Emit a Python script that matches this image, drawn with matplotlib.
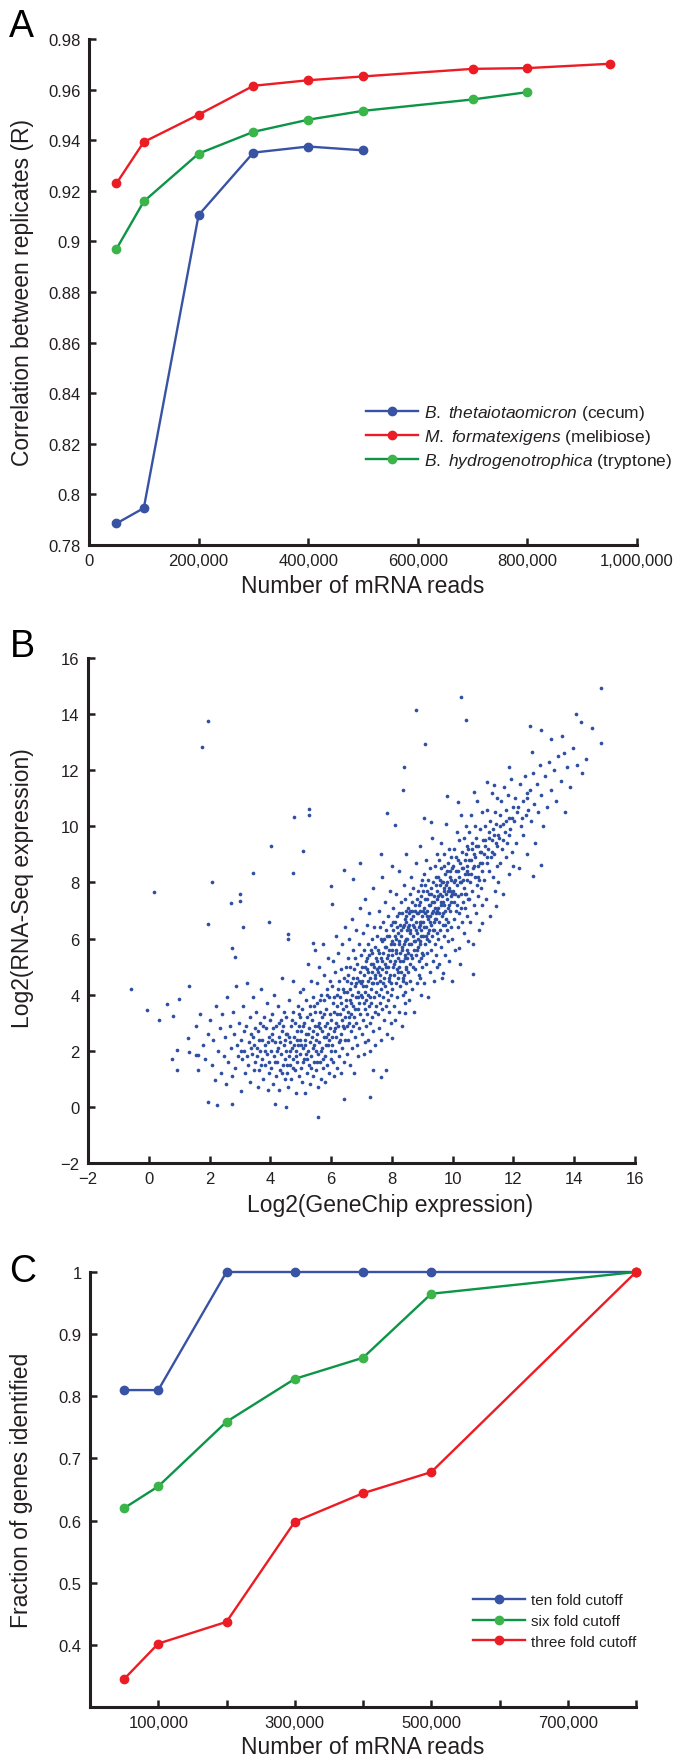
import matplotlib
matplotlib.use("Agg")
import matplotlib.pyplot as plt
from matplotlib.lines import Line2D
from matplotlib.ticker import FixedLocator, FuncFormatter, NullFormatter

plt.rcParams['font.family'] = ['Liberation Sans', 'DejaVu Sans']
plt.rcParams['mathtext.fontset'] = 'custom'
plt.rcParams['mathtext.rm'] = 'Liberation Sans'
plt.rcParams['mathtext.it'] = 'Liberation Sans:italic'

# ---------------- Panel A data ----------------
a_reads_bt = [50000, 100000, 200000, 300000, 400000, 500000]
a_corr_bt = [0.7885, 0.7946, 0.9104, 0.9351, 0.9375, 0.9360]
a_reads_mf = [50000, 100000, 200000, 300000, 400000, 500000, 700000, 800000, 950000]
a_corr_mf = [0.9229, 0.9393, 0.9501, 0.9615, 0.9637, 0.9652, 0.9682, 0.9685, 0.9702]
a_reads_bh = [50000, 100000, 200000, 300000, 400000, 500000, 700000, 800000]
a_corr_bh = [0.8970, 0.9158, 0.9347, 0.9433, 0.9481, 0.9516, 0.9561, 0.9590]
a_labels = [r"$\mathit{B.\ thetaiotaomicron}$ (cecum)",
            r"$\mathit{M.\ formatexigens}$ (melibiose)",
            r"$\mathit{B.\ hydrogenotrophica}$ (tryptone)"]
a_xticks = [0, 200000, 400000, 600000, 800000, 1000000]
a_yticks = [0.78, 0.80, 0.82, 0.84, 0.86, 0.88, 0.90, 0.92, 0.94, 0.96, 0.98]

# ---------------- Panel B data (GeneChip, RNA-Seq) ----------------
b_points = [
    # sparse outliers
    (-0.59, 4.19), (0.16, 7.67), (-0.05, 3.44), (0.33, 3.08), (1.75, 12.82), (1.96, 13.77),
    (2.09, 8.02), (1.96, 6.52), (3.42, 8.33), (4.03, 9.29), (4.79, 10.32), (5.26, 10.63),
    (5.26, 10.42), (5.06, 9.12), (4.73, 8.33), (3.0, 7.6), (3.0, 7.34), (2.69, 7.25),
    (3.1, 6.4), (3.96, 6.6), (2.74, 5.67), (2.85, 5.36),
    (8.79, 14.15), (10.28, 14.6), (10.45, 13.78), (9.1, 12.94), (8.4, 12.1), (8.37, 11.29),
    (14.87, 14.93), (14.87, 12.96), (14.07, 14.0), (14.22, 13.73), (14.58, 13.52),
    (12.55, 13.56), (12.91, 13.43), (13.25, 13.12), (13.59, 13.22), (12.62, 12.66),
    (11.85, 12.13), (11.14, 11.58), (11.37, 11.48), (10.69, 11.23), (9.81, 11.07),
    (10.19, 10.88), (7.83, 10.47), (8.1, 10.04), (9.05, 10.28), (9.3, 10.16),
    (13.7, 10.5), (12.9, 8.63), (12.64, 8.23), (11.44, 7.15), (10.98, 6.56), (10.67, 4.74),
    (9.97, 4.5), (9.68, 4.78), (10.2, 5.68),
    (1.96, 0.16), (2.24, 0.05), (2.74, 0.1), (4.15, 0.1), (4.5, 0.0), (5.58, -0.36),
    (6.42, 0.29), (7.28, 0.34), (7.39, 1.33), (7.79, 1.3), (7.63, 1.08), (8.0, 2.44),
    (8.44, 3.35), (0.77, 1.69), (0.94, 1.32), (0.94, 2.03), (0.59, 3.68), (0.81, 3.24),
    (0.98, 3.86), (1.34, 4.31), (1.28, 2.45), (1.32, 1.95), (1.54, 1.84), (1.62, 1.84),
    (6.42, 8.43), (6.73, 8.13), (6.95, 8.68), (7.63, 9.0), (6.0, 7.88), (6.03, 7.22),
    (5.4, 5.84), (4.59, 6.15), (4.59, 5.97),
    # main cloud
    (1.55, 2.9), (1.62, 1.3), (1.7, 3.3), (1.78, 2.2), (1.86, 1.7), (1.95, 2.6),
    (2.03, 3.1), (2.08, 1.5), (2.12, 2.4), (2.18, 0.95), (2.22, 3.6), (2.27, 2.0), (2.33, 2.8),
    (2.38, 1.2), (2.42, 3.3), (2.47, 1.8),
    (2.52, 2.5), (2.55, 0.8), (2.58, 3.9), (2.62, 1.6), (2.66, 2.9), (2.7, 2.1), (2.73, 1.1),
    (2.77, 3.4), (2.8, 2.6), (2.84, 1.4), (2.88, 4.3), (2.91, 2.2), (2.95, 1.8), (2.98, 3.0),
    (3.02, 2.4), (3.05, 0.55), (3.08, 1.7), (3.1, 3.6), (3.13, 2.0), (3.16, 1.2), (3.2, 2.9),
    (3.23, 4.4), (3.26, 1.5), (3.29, 2.3), (3.32, 3.2), (3.34, 0.9), (3.37, 2.6), (3.4, 1.9),
    (3.43, 3.9), (3.45, 1.3), (3.47, 2.2), (3.49, 2.8),
    (3.51, 1.6), (3.53, 3.4), (3.56, 2.1), (3.58, 0.7), (3.6, 2.7), (3.62, 1.3), (3.65, 3.0),
    (3.67, 2.0), (3.7, 4.2), (3.72, 1.7), (3.74, 2.4), (3.77, 1.0), (3.79, 3.2), (3.81, 2.2),
    (3.84, 1.5), (3.86, 2.8), (3.88, 3.7), (3.9, 1.9), (3.92, 0.6), (3.94, 2.5), (3.96, 1.2),
    (3.98, 3.1),
    (4.01, 2.0), (4.03, 1.4), (4.05, 3.3), (4.07, 2.6), (4.09, 0.8), (4.11, 1.8), (4.13, 4.0),
    (4.16, 2.3), (4.18, 1.1), (4.2, 2.9), (4.22, 1.6), (4.24, 3.6), (4.26, 2.1), (4.28, 0.6),
    (4.3, 2.5), (4.32, 1.3), (4.34, 3.1), (4.36, 1.9), (4.38, 4.6), (4.4, 2.7), (4.42, 1.5),
    (4.44, 2.2), (4.46, 3.4), (4.47, 1.0), (4.48, 2.4), (4.49, 1.7),
    (4.51, 2.0), (4.52, 3.2), (4.54, 1.2), (4.56, 2.6), (4.58, 0.7), (4.6, 1.8), (4.62, 3.8),
    (4.64, 2.3), (4.65, 1.5), (4.67, 2.9), (4.69, 1.0), (4.71, 2.1), (4.73, 3.4), (4.74, 1.7),
    (4.76, 4.5), (4.78, 2.5), (4.8, 1.3), (4.82, 3.0), (4.84, 2.0), (4.85, 0.5), (4.87, 2.7),
    (4.88, 1.6), (4.9, 3.6), (4.92, 2.2), (4.93, 1.1), (4.95, 2.9), (4.96, 4.1), (4.97, 1.9),
    (4.98, 2.4), (4.99, 3.2),
    (5.01, 1.4), (5.02, 2.7), (5.04, 3.5), (5.05, 0.9), (5.07, 2.1), (5.08, 4.2), (5.1, 1.7),
    (5.11, 3.0), (5.13, 2.4), (5.14, 0.5), (5.16, 1.9), (5.17, 3.8), (5.19, 2.6), (5.2, 1.2),
    (5.22, 3.2), (5.23, 2.0), (5.25, 5.1), (5.26, 1.5), (5.28, 2.8), (5.29, 3.6), (5.31, 0.8),
    (5.32, 2.3), (5.34, 4.5), (5.35, 1.8), (5.37, 3.1), (5.38, 2.5), (5.4, 1.1), (5.41, 3.9),
    (5.43, 2.2), (5.44, 1.6), (5.46, 2.9), (5.47, 5.6), (5.48, 3.4), (5.49, 2.0),
    (5.51, 1.3), (5.52, 2.6), (5.53, 3.7), (5.55, 4.4), (5.56, 1.9), (5.57, 0.7), (5.59, 3.0),
    (5.6, 2.3), (5.61, 5.0), (5.63, 1.6), (5.64, 3.4), (5.65, 2.8), (5.67, 1.0), (5.68, 4.0),
    (5.69, 2.1), (5.71, 3.2), (5.72, 5.8), (5.73, 1.4), (5.75, 2.5), (5.76, 3.8), (5.77, 4.7),
    (5.79, 1.8), (5.8, 2.9), (5.81, 0.9), (5.83, 3.5), (5.84, 2.2), (5.85, 4.2), (5.87, 1.5),
    (5.88, 3.0), (5.89, 2.6), (5.9, 5.3), (5.92, 3.9), (5.93, 1.2), (5.94, 2.4), (5.95, 4.5),
    (5.97, 3.3), (5.98, 2.0), (5.99, 1.7),
    (6.01, 3.1), (6.02, 2.2), (6.03, 4.3), (6.05, 1.6), (6.06, 3.7), (6.07, 5.2), (6.08, 2.7),
    (6.1, 1.1), (6.11, 3.4), (6.12, 4.8), (6.13, 2.0), (6.15, 3.0), (6.16, 6.1), (6.17, 2.5),
    (6.18, 4.0), (6.2, 1.4), (6.21, 3.6), (6.22, 2.9), (6.23, 5.5), (6.25, 2.3), (6.26, 4.5),
    (6.27, 1.8), (6.28, 3.3), (6.3, 3.9), (6.31, 2.6), (6.32, 4.9), (6.33, 1.2), (6.35, 3.1),
    (6.36, 5.8), (6.37, 2.1), (6.38, 4.2), (6.4, 3.5), (6.41, 2.8), (6.42, 1.6), (6.43, 4.6),
    (6.45, 3.2), (6.46, 6.4), (6.47, 2.4), (6.48, 3.8), (6.49, 5.0),
    (6.51, 2.9), (6.52, 4.1), (6.53, 1.9), (6.54, 5.3), (6.55, 3.4), (6.56, 2.4), (6.57, 4.7),
    (6.59, 6.0), (6.6, 3.0), (6.61, 1.5), (6.62, 3.8), (6.63, 5.0), (6.64, 2.7), (6.65, 4.4),
    (6.66, 3.3), (6.68, 6.7), (6.69, 2.1), (6.7, 4.0), (6.71, 5.6), (6.72, 3.6), (6.73, 2.9),
    (6.74, 4.9), (6.75, 1.2), (6.76, 3.2), (6.78, 4.3), (6.79, 5.3), (6.8, 2.5), (6.81, 3.9),
    (6.82, 6.3), (6.83, 3.0), (6.84, 4.6), (6.85, 2.2), (6.86, 5.1), (6.88, 3.5), (6.89, 4.1),
    (6.9, 1.8), (6.91, 5.8), (6.92, 3.7), (6.93, 2.8), (6.94, 4.8), (6.95, 7.1), (6.96, 3.3),
    (6.97, 4.4), (6.99, 5.4),
    (7.01, 3.9), (7.02, 2.6), (7.03, 5.0), (7.04, 4.3), (7.05, 6.2), (7.06, 3.1), (7.07, 1.9),
    (7.08, 4.7), (7.09, 5.6), (7.1, 3.5), (7.11, 2.3), (7.12, 4.1), (7.13, 7.4), (7.14, 5.2),
    (7.15, 3.8), (7.16, 2.9), (7.17, 4.9), (7.18, 6.5), (7.19, 3.3), (7.2, 4.5), (7.21, 5.8),
    (7.22, 2.4), (7.23, 4.0), (7.24, 3.6), (7.25, 5.4), (7.26, 6.9), (7.27, 3.0), (7.28, 4.6),
    (7.29, 2.0), (7.3, 5.1), (7.31, 3.7), (7.32, 4.2), (7.33, 6.0), (7.34, 3.2), (7.35, 4.8),
    (7.36, 5.5), (7.37, 2.7), (7.38, 4.4), (7.39, 7.8), (7.4, 3.9), (7.41, 5.0), (7.42, 6.4),
    (7.43, 3.4), (7.44, 4.7), (7.45, 2.2), (7.46, 5.7), (7.47, 4.1), (7.49, 3.6),
    (7.5, 5.2), (7.51, 4.4), (7.52, 6.1), (7.53, 3.3), (7.54, 4.8), (7.55, 5.6), (7.56, 2.8),
    (7.57, 4.0), (7.58, 7.0), (7.59, 5.0), (7.6, 3.7), (7.61, 4.5), (7.62, 6.4), (7.63, 2.4),
    (7.64, 5.3), (7.65, 4.2), (7.66, 5.9), (7.67, 3.5), (7.68, 4.9), (7.69, 8.2), (7.7, 6.6),
    (7.71, 3.9), (7.72, 5.5), (7.73, 4.6), (7.74, 3.1), (7.75, 6.0), (7.76, 5.1), (7.77, 4.3),
    (7.78, 7.3), (7.79, 3.6), (7.8, 5.7), (7.81, 4.8), (7.82, 6.3), (7.83, 2.6), (7.84, 5.3),
    (7.85, 4.1), (7.86, 6.8), (7.87, 3.8), (7.88, 5.0), (7.89, 4.5), (7.9, 6.1), (7.91, 3.4),
    (7.92, 5.6), (7.93, 7.7), (7.94, 4.7), (7.95, 5.2), (7.96, 3.0), (7.97, 6.5), (7.98, 4.4),
    (7.99, 5.9), (7.995, 8.6), (7.97, 4.0),
    (8.01, 5.4), (8.02, 4.2), (8.03, 6.3), (8.04, 5.0), (8.05, 7.1), (8.06, 3.6), (8.07, 5.8),
    (8.08, 4.7), (8.09, 6.6), (8.1, 5.2), (8.11, 3.1), (8.12, 6.0), (8.13, 4.4), (8.14, 7.6),
    (8.15, 5.6), (8.16, 4.9), (8.17, 6.8), (8.18, 3.9), (8.19, 5.3), (8.2, 6.2), (8.21, 4.6),
    (8.22, 8.4), (8.23, 5.9), (8.24, 5.0), (8.25, 3.4), (8.26, 6.5), (8.27, 4.3), (8.28, 5.5),
    (8.29, 7.3), (8.3, 4.8), (8.31, 6.1), (8.32, 5.7), (8.33, 2.9), (8.34, 6.9), (8.35, 4.5),
    (8.36, 5.2), (8.37, 6.4), (8.38, 4.0), (8.39, 7.9), (8.4, 5.8), (8.41, 4.7), (8.42, 6.7),
    (8.43, 5.3), (8.44, 3.7), (8.45, 6.0), (8.46, 5.0), (8.47, 7.0), (8.48, 4.4), (8.49, 6.3),
    (8.485, 5.6), (8.475, 9.0), (8.465, 4.9), (8.455, 6.6), (8.445, 5.4), (8.435, 7.4), (8.425, 4.1),
    (8.51, 6.0), (8.52, 4.8), (8.53, 7.1), (8.54, 5.5), (8.55, 6.5), (8.56, 3.8), (8.57, 6.9),
    (8.58, 5.1), (8.59, 7.6), (8.6, 6.2), (8.61, 4.5), (8.62, 5.8), (8.63, 8.2), (8.64, 6.7),
    (8.65, 5.3), (8.66, 7.3), (8.67, 4.2), (8.68, 6.1), (8.69, 6.8), (8.7, 5.0), (8.71, 7.8),
    (8.72, 5.6), (8.73, 6.4), (8.74, 3.4), (8.75, 7.0), (8.76, 5.9), (8.77, 4.9), (8.78, 6.6),
    (8.79, 8.7), (8.8, 5.4), (8.81, 7.4), (8.82, 6.2), (8.83, 4.4), (8.84, 6.9), (8.85, 5.7),
    (8.86, 7.7), (8.87, 6.0), (8.88, 5.2), (8.89, 7.2), (8.9, 4.7), (8.91, 6.5), (8.92, 9.3),
    (8.93, 5.8), (8.94, 7.0), (8.95, 6.3), (8.96, 4.0), (8.97, 7.5), (8.98, 5.5), (8.99, 6.8),
    (8.985, 8.1), (8.975, 5.0), (8.965, 6.1), (8.955, 7.9), (8.945, 5.3), (8.935, 6.6), (8.925, 4.6),
    (9.01, 6.6), (9.02, 5.4), (9.03, 7.7), (9.04, 6.1), (9.05, 8.3), (9.06, 4.4), (9.07, 7.1),
    (9.08, 5.8), (9.09, 6.9), (9.1, 7.9), (9.11, 5.1), (9.12, 6.4), (9.13, 8.8), (9.14, 7.4),
    (9.15, 6.0), (9.16, 5.5), (9.17, 7.0), (9.18, 8.1), (9.19, 3.9), (9.2, 6.7), (9.21, 7.6),
    (9.22, 5.9), (9.23, 6.3), (9.24, 8.5), (9.25, 7.2), (9.26, 4.8), (9.27, 6.8), (9.28, 7.8),
    (9.29, 5.6), (9.3, 6.5), (9.31, 9.6), (9.32, 7.3), (9.33, 6.1), (9.34, 5.2), (9.35, 8.0),
    (9.36, 7.0), (9.37, 6.6), (9.38, 4.5), (9.39, 7.5), (9.4, 6.3), (9.41, 8.6), (9.42, 5.8),
    (9.43, 7.1), (9.44, 6.9), (9.45, 5.4), (9.46, 8.2), (9.47, 7.7), (9.48, 6.2), (9.49, 7.4),
    (9.485, 5.0), (9.475, 9.0), (9.465, 6.7),
    (9.51, 7.1), (9.52, 6.0), (9.53, 8.2), (9.54, 6.6), (9.55, 8.8), (9.56, 5.1), (9.57, 7.6),
    (9.58, 6.3), (9.59, 7.9), (9.6, 9.4), (9.61, 5.7), (9.62, 7.2), (9.63, 8.5), (9.64, 6.8),
    (9.65, 7.5), (9.66, 4.6), (9.67, 8.0), (9.68, 6.5), (9.69, 7.3), (9.7, 9.0), (9.71, 6.1),
    (9.72, 7.8), (9.73, 8.6), (9.74, 5.4), (9.75, 7.0), (9.76, 8.3), (9.77, 6.7), (9.78, 7.6),
    (9.79, 10.1), (9.8, 6.3), (9.81, 8.0), (9.82, 7.4), (9.83, 5.9), (9.84, 8.7), (9.85, 7.1),
    (9.86, 6.6), (9.87, 9.2), (9.88, 7.8), (9.89, 5.2), (9.9, 8.4), (9.91, 7.0), (9.92, 7.7),
    (9.93, 6.4), (9.94, 8.9), (9.95, 7.3), (9.96, 8.1), (9.97, 6.0), (9.99, 7.6),
    (10.01, 7.7), (10.02, 8.6), (10.04, 6.7), (10.05, 9.2), (10.06, 7.3), (10.08, 8.1),
    (10.09, 5.6), (10.1, 8.9), (10.12, 7.0), (10.13, 9.8), (10.14, 7.9), (10.16, 6.4),
    (10.17, 8.4), (10.18, 7.5), (10.2, 9.5), (10.21, 6.9), (10.22, 8.2), (10.24, 5.1),
    (10.25, 8.7), (10.26, 7.6), (10.28, 10.4), (10.29, 8.0), (10.3, 6.6), (10.32, 9.1),
    (10.33, 7.3), (10.34, 8.5), (10.36, 7.8), (10.37, 6.2), (10.38, 9.6), (10.4, 8.3),
    (10.41, 7.1), (10.42, 8.8), (10.44, 10.0), (10.45, 7.6), (10.46, 6.8), (10.47, 8.1),
    (10.48, 9.3), (10.49, 7.4), (10.495, 5.9), (10.485, 8.6),
    (10.51, 8.3), (10.52, 9.2), (10.54, 7.4), (10.55, 9.8), (10.57, 8.0), (10.58, 6.6),
    (10.6, 8.8), (10.61, 10.4), (10.63, 7.7), (10.64, 9.4), (10.66, 8.5), (10.67, 5.8),
    (10.69, 9.0), (10.7, 7.2), (10.72, 10.0), (10.73, 8.2), (10.75, 8.9), (10.76, 6.9),
    (10.78, 9.6), (10.79, 7.9), (10.81, 10.9), (10.82, 8.6), (10.84, 7.5), (10.85, 9.3),
    (10.87, 8.1), (10.88, 6.3), (10.9, 9.9), (10.91, 8.7), (10.93, 7.8), (10.94, 9.1),
    (10.96, 10.5), (10.97, 8.4), (10.98, 7.2), (10.99, 9.5),
    (11.02, 9.0), (11.04, 8.1), (11.06, 10.0), (11.08, 9.5), (11.1, 7.4), (11.12, 8.7),
    (11.14, 10.6), (11.16, 9.2), (11.18, 8.4), (11.2, 9.8), (11.22, 6.8), (11.24, 10.2),
    (11.26, 8.9), (11.28, 9.5), (11.3, 11.2), (11.32, 8.2), (11.34, 9.9), (11.36, 9.0),
    (11.38, 10.5), (11.4, 7.7), (11.42, 9.4), (11.44, 10.1), (11.46, 8.6), (11.47, 11.0),
    (11.48, 9.7), (11.49, 8.0),
    (11.52, 9.6), (11.55, 10.4), (11.57, 8.7), (11.6, 10.9), (11.62, 9.2), (11.65, 7.6),
    (11.67, 10.1), (11.7, 11.4), (11.72, 9.8), (11.75, 8.9), (11.77, 10.6), (11.8, 9.4),
    (11.82, 11.1), (11.85, 8.3), (11.87, 10.3), (11.9, 9.9), (11.92, 11.7), (11.95, 9.1),
    (11.97, 10.7), (11.99, 8.6),
    (12.03, 10.2), (12.06, 11.0), (12.1, 9.4), (12.14, 10.7), (12.18, 8.5), (12.22, 11.5),
    (12.26, 10.0), (12.3, 10.9), (12.33, 9.7), (12.37, 11.8), (12.4, 10.4), (12.43, 9.0),
    (12.46, 11.2), (12.49, 10.6),
    (12.53, 11.3), (12.58, 10.2), (12.63, 11.9), (12.68, 10.8), (12.72, 9.4), (12.77, 11.5),
    (12.82, 10.5), (12.87, 12.2), (12.92, 11.1), (12.97, 10.0),
    (13.04, 11.8), (13.1, 10.7), (13.18, 12.3), (13.25, 11.3), (13.32, 12.0), (13.4, 10.9),
    (13.47, 12.5),
    (13.55, 11.6), (13.65, 12.6), (13.75, 12.1), (13.85, 11.4), (13.95, 12.8),
    (14.1, 12.2), (14.25, 11.9), (14.4, 12.4),
    # denser cores
    (3.04, 2.0), (3.14, 2.7), (3.24, 1.8), (3.36, 2.1), (3.44, 2.5), (3.55, 1.8), (3.64, 2.4),
    (3.69, 1.5), (3.76, 2.9), (3.83, 2.0), (3.91, 2.3), (3.97, 1.6), (4.04, 2.4), (4.1, 2.8),
    (4.15, 1.6), (4.21, 2.0), (4.27, 3.0), (4.33, 2.3), (4.39, 1.2), (4.43, 2.9), (4.5, 2.6),
    (4.55, 1.5), (4.61, 2.5), (4.66, 2.0), (4.7, 3.1), (4.75, 1.4), (4.79, 2.2), (4.83, 1.8),
    (4.89, 2.4), (4.94, 3.3), (5.0, 2.2), (5.06, 1.6), (5.09, 2.9), (5.15, 2.2), (5.21, 1.7),
    (5.24, 2.6), (5.3, 3.3), (5.33, 1.4), (5.39, 2.1), (5.42, 2.7), (5.45, 3.6), (5.5, 2.4),
    (5.54, 1.6), (5.58, 2.9), (5.62, 3.8), (5.66, 2.0), (5.7, 2.7), (5.74, 1.7), (5.78, 3.3),
    (5.82, 2.5), (5.86, 4.0), (5.91, 2.2), (5.96, 2.8),
    (6.04, 2.5), (6.09, 3.9), (6.14, 2.8), (6.19, 3.3), (6.24, 4.2), (6.29, 2.4), (6.34, 3.7),
    (6.39, 2.9), (6.44, 4.1), (6.5, 3.6), (6.53, 4.5), (6.58, 3.2), (6.62, 4.2), (6.67, 3.7),
    (6.71, 4.6), (6.77, 3.5), (6.81, 4.4), (6.87, 3.9), (6.92, 4.5), (6.98, 4.0),
    (7.03, 4.5), (7.07, 3.7), (7.11, 5.0), (7.15, 4.3), (7.19, 5.3), (7.23, 4.8), (7.27, 3.9),
    (7.31, 5.6), (7.35, 4.4), (7.39, 5.1), (7.43, 4.6), (7.47, 5.3), (7.52, 4.9), (7.56, 5.5),
    (7.6, 4.7), (7.64, 6.0), (7.68, 5.2), (7.72, 4.4), (7.76, 5.7), (7.8, 5.0), (7.84, 6.1),
    (7.88, 5.4), (7.92, 4.6), (7.96, 5.8),
    (8.02, 5.6), (8.04, 6.6), (8.07, 5.1), (8.1, 6.1), (8.13, 5.5), (8.16, 6.4), (8.19, 4.8),
    (8.22, 5.8), (8.25, 6.9), (8.28, 5.2), (8.31, 6.3), (8.34, 5.6), (8.37, 4.6), (8.4, 6.5),
    (8.43, 5.9), (8.46, 6.8), (8.49, 5.3),
    (8.52, 6.4), (8.55, 5.8), (8.58, 7.0), (8.61, 6.3), (8.64, 5.4), (8.67, 7.0), (8.7, 6.5),
    (8.73, 5.9), (8.76, 7.2), (8.79, 6.3), (8.82, 5.6), (8.85, 6.9), (8.88, 6.4), (8.91, 7.3),
    (8.94, 5.9), (8.97, 6.6),
    (9.02, 7.0), (9.05, 6.4), (9.08, 7.4), (9.11, 6.1), (9.14, 6.8), (9.17, 7.7), (9.2, 6.2),
    (9.23, 7.2), (9.26, 6.6), (9.29, 7.6), (9.32, 6.9), (9.35, 6.3), (9.38, 7.3), (9.41, 6.7),
    (9.44, 7.9), (9.47, 7.0),
    (9.52, 7.5), (9.55, 6.9), (9.58, 8.1), (9.61, 7.3), (9.64, 8.0), (9.67, 6.9), (9.7, 7.7),
    (9.73, 7.2), (9.76, 6.5), (9.79, 7.9), (9.82, 8.4), (9.85, 7.7), (9.88, 7.2), (9.91, 8.2),
    (9.94, 7.5), (9.97, 8.5),
    (10.03, 8.0), (10.07, 7.6), (10.11, 8.4), (10.15, 7.2), (10.19, 8.8), (10.23, 8.0),
    (10.27, 7.1), (10.31, 8.5), (10.35, 8.1), (10.39, 7.6), (10.43, 9.0), (10.47, 8.4),
    (10.53, 8.8), (10.59, 8.3), (10.65, 9.2), (10.71, 8.6), (10.77, 9.3), (10.83, 8.2),
    (10.89, 9.1), (10.95, 8.7),
    (11.05, 9.3), (11.13, 8.9), (11.21, 9.6), (11.29, 9.1), (11.37, 9.7), (11.45, 9.3),
    (11.56, 10.0), (11.66, 9.5), (11.76, 10.2), (11.86, 9.7), (11.96, 10.3), (12.12, 10.5),
    (12.28, 10.3), (12.44, 11.0),
]
b_genechip = [p[0] for p in b_points]
b_rnaseq = [p[1] for p in b_points]
b_ticks = [-2, 0, 2, 4, 6, 8, 10, 12, 14, 16]

# ---------------- Panel C data ----------------
c_reads = [50000, 100000, 200000, 300000, 400000, 500000, 800000]
c_ten = [0.810, 0.810, 1.0, 1.0, 1.0, 1.0, 1.0]
c_six = [0.620, 0.655, 0.759, 0.828, 0.862, 0.965, 1.0]
c_three = [0.345, 0.402, 0.437, 0.598, 0.644, 0.678, 1.0]
c_labels = ["ten fold cutoff", "six fold cutoff", "three fold cutoff"]
c_xticks_labeled = [100000, 300000, 500000, 700000]
c_xticks_minor = [0, 200000, 400000, 600000, 800000]
c_yticks = [0.4, 0.5, 0.6, 0.7, 0.8, 0.9, 1.0]

# ---------------- styles ----------------
INK = '#231F20'
BLUE = '#3953A4'
RED = '#EC1C24'
GREEN_LINE = '#0C9447'
GREEN_MK = '#3BB54A'
DOT = '#2F4FA2'
W, H = 673, 1758

fig = plt.figure(figsize=(W / 100, H / 100), dpi=100)


def box(l, t, r, b):
    return [l / W, 1 - b / H, (r - l) / W, (b - t) / H]


def style(ax):
    for s in ('top', 'right'):
        ax.spines[s].set_visible(False)
    for s in ('left', 'bottom'):
        ax.spines[s].set_linewidth(2.2)
        ax.spines[s].set_color(INK)
        ax.spines[s].set_capstyle('projecting')
    ax.tick_params(which='both', direction='in', length=5, width=1.8, color=INK,
                   labelsize=12, labelcolor=INK, pad=6)


def fmt_g(v, pos):
    return f"{v:g}"


def fmt_comma(v, pos):
    return f"{int(round(v)):,}"


# ---------- A ----------
axA = fig.add_axes(box(89, 40, 637, 546))
style(axA)
lk = dict(lw=1.7, marker='o', ms=6, clip_on=False, zorder=3)
axA.plot(a_reads_bt, a_corr_bt, color=BLUE, mfc=BLUE, mec=BLUE, **lk)
axA.plot(a_reads_mf, a_corr_mf, color=RED, mfc=RED, mec=RED, **lk)
axA.plot(a_reads_bh, a_corr_bh, color=GREEN_LINE, mfc=GREEN_MK, mec=GREEN_MK, **lk)
axA.set_xlim(0, 1000000)
axA.set_ylim(0.78, 0.98)
axA.xaxis.set_major_locator(FixedLocator(a_xticks))
axA.xaxis.set_major_formatter(FuncFormatter(fmt_comma))
axA.yaxis.set_major_locator(FixedLocator(a_yticks))
axA.yaxis.set_major_formatter(FuncFormatter(fmt_g))
axA.set_xlabel("Number of mRNA reads", fontsize=16.5, color=INK)
axA.set_ylabel("Correlation between replicates (R)", fontsize=16.5, color=INK)
axA.xaxis.set_label_coords(0.5, -0.058)
axA.yaxis.set_label_coords(-0.10, 0.5)
hA = [Line2D([], [], color=BLUE, lw=1.7, marker='o', ms=6, mfc=BLUE, mec=BLUE),
      Line2D([], [], color=RED, lw=1.7, marker='o', ms=6, mfc=RED, mec=RED),
      Line2D([], [], color=GREEN_LINE, lw=1.7, marker='o', ms=6, mfc=GREEN_MK, mec=GREEN_MK)]
legA = axA.legend(hA, a_labels, loc='upper left', bbox_to_anchor=(366 / W, 1 - 404 / H),
                  bbox_transform=fig.transFigure, frameon=False, fontsize=12.5,
                  handlelength=3.0, handletextpad=0.35, labelspacing=0.3, borderpad=0,
                  borderaxespad=0)
for t in legA.get_texts():
    t.set_color(INK)

# ---------- B ----------
axB = fig.add_axes(box(88, 659, 635, 1164))
style(axB)
axB.scatter(b_genechip, b_rnaseq, s=7, color=DOT, linewidths=0, zorder=3)
axB.set_xlim(-2, 16)
axB.set_ylim(-2, 16)
axB.xaxis.set_major_locator(FixedLocator(b_ticks))
axB.yaxis.set_major_locator(FixedLocator(b_ticks))
axB.set_xlabel("Log2(GeneChip expression)", fontsize=16.5, color=INK)
axB.set_ylabel("Log2(RNA-Seq expression)", fontsize=16.5, color=INK)
axB.xaxis.set_label_coords(0.552, -0.060)
axB.yaxis.set_label_coords(-0.098, 0.547)

# ---------- C ----------
axC = fig.add_axes(box(90, 1273, 636, 1708))
style(axC)
axC.plot(c_reads, c_ten, color=BLUE, mfc=BLUE, mec=BLUE, **lk)
axC.plot(c_reads, c_six, color=GREEN_LINE, mfc=GREEN_MK, mec=GREEN_MK, **lk)
axC.plot(c_reads, c_three, color=RED, mfc=RED, mec=RED, **lk)
axC.set_xlim(0, 800000)
axC.set_ylim(0.3, 1.0)
axC.xaxis.set_major_locator(FixedLocator(c_xticks_labeled))
axC.xaxis.set_major_formatter(FuncFormatter(fmt_comma))
axC.xaxis.set_minor_locator(FixedLocator(c_xticks_minor))
axC.xaxis.set_minor_formatter(NullFormatter())
axC.yaxis.set_major_locator(FixedLocator(c_yticks))
axC.yaxis.set_major_formatter(FuncFormatter(fmt_g))
axC.set_xlabel("Number of mRNA reads", fontsize=16.5, color=INK)
axC.set_ylabel("Fraction of genes identified", fontsize=16.5, color=INK)
axC.xaxis.set_label_coords(0.5, -0.064)
axC.yaxis.set_label_coords(-0.104, 0.5)
hC = [Line2D([], [], color=BLUE, lw=1.7, marker='o', ms=6, mfc=BLUE, mec=BLUE),
      Line2D([], [], color=GREEN_LINE, lw=1.7, marker='o', ms=6, mfc=GREEN_MK, mec=GREEN_MK),
      Line2D([], [], color=RED, lw=1.7, marker='o', ms=6, mfc=RED, mec=RED)]
legC = axC.legend(hC, c_labels, loc='upper left', bbox_to_anchor=(473 / W, 1 - 1594 / H),
                  bbox_transform=fig.transFigure, frameon=False, fontsize=11,
                  handlelength=3.4, handletextpad=0.4, labelspacing=0.45, borderpad=0,
                  borderaxespad=0)
for t in legC.get_texts():
    t.set_color(INK)

# ---------- panel letters ----------
fig.text(9 / W, 1 - 37 / H, "A", fontsize=27, color='black', va='baseline', ha='left')
fig.text(10 / W, 1 - 657 / H, "B", fontsize=27, color='black', va='baseline', ha='left')
fig.text(9 / W, 1 - 1282 / H, "C", fontsize=27, color='black', va='baseline', ha='left')

fig.savefig("out.png", dpi=100)
